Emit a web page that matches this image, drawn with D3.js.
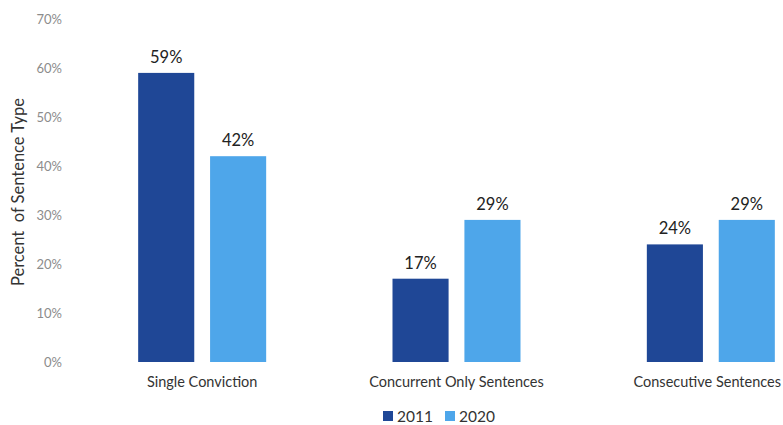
<!DOCTYPE html>
<html>
<head>
<meta charset="utf-8">
<script src="https://cdn.jsdelivr.net/npm/d3@7"></script>
<style>
  html, body { margin: 0; padding: 0; background: #ffffff; }
  svg { display: block; font-family: Lato, "Open Sans", sans-serif; }
</style>
</head>
<body>
<svg id="chart" width="783" height="425"></svg>
<script>
// Sentence type shares by year
const categories = ["Single Conviction", "Concurrent Only Sentences", "Consecutive Sentences"];
const years = ["2011", "2020"];
const values2011 = [59, 17, 24];
const values2020 = [42, 29, 29];
const yTicks = [0, 10, 20, 30, 40, 50, 60, 70];
const colors = ["#1f4796", "#4ea6ea"];

const W = 783;
const svg = d3.select("#chart");
const baseY = 362, topY = 19;

const y = d3.scaleLinear().domain([0, 70]).range([baseY, topY]);
const x = d3.scaleBand().domain(categories).range([75, 838]).paddingInner(0).paddingOuter(0);
const xs = d3.scaleBand().domain(years).range([0, 128]).paddingInner(0.22).paddingOuter(0);

// y axis (tick labels only)
const yAxis = d3.axisLeft(y).tickValues(yTicks).tickFormat(d => d + "%").tickSize(0).tickPadding(0);
const gy = svg.append("g").attr("transform", "translate(62,0)").call(yAxis);
gy.select(".domain").remove();
gy.selectAll("text").attr("fill", "#8c8c8c").style("font-size", "13px").style("font-family", "Lato, sans-serif");

// y axis title
svg.append("text")
  .attr("transform", "translate(24,192) rotate(-90)")
  .attr("text-anchor", "middle")
  .attr("fill", "#333")
  .style("font-size", "16.5px")
  .style("white-space", "pre")
  .text("Percent  of Sentence Type");

// bars
const rows = categories.map((c, i) => ({ c, vals: [values2011[i], values2020[i]] }));
const groups = svg.selectAll("g.grp").data(rows).join("g")
  .attr("class", "grp")
  .attr("transform", d => `translate(${x(d.c) + x.bandwidth() / 2 - 64},0)`);

groups.selectAll("rect").data(d => d.vals.map((v, j) => ({ v, yr: years[j], j }))).join("rect")
  .attr("x", d => xs(d.yr))
  .attr("y", d => y(d.v))
  .attr("width", xs.bandwidth())
  .attr("height", d => baseY - y(d.v))
  .attr("fill", d => colors[d.j]);

groups.selectAll("text.val").data(d => d.vals.map((v, j) => ({ v, yr: years[j] }))).join("text")
  .attr("class", "val")
  .attr("x", d => xs(d.yr) + xs.bandwidth() / 2)
  .attr("y", d => y(d.v) - 10)
  .attr("text-anchor", "middle")
  .attr("fill", "#222")
  .style("font-size", "16.5px")
  .text(d => d.v + "%");

// category labels
const xAxis = d3.axisBottom(x).tickSize(0).tickPadding(0);
const gx = svg.append("g").attr("transform", `translate(0,${baseY + 15})`).call(xAxis);
gx.select(".domain").remove();
gx.selectAll("text").attr("fill", "#333").style("font-size", "14.5px").style("font-family", "Lato, sans-serif");

// keep labels that run past the right edge inside the frame
gx.selectAll(".tick").each(function () {
  const t = d3.select(this).select("text");
  const box = this.getBoundingClientRect();
  const over = box.right - (W - 2);
  if (over > 0) t.attr("dx", -over);
});

// legend
const legend = svg.append("g").attr("transform", "translate(383,416)");
const items = legend.selectAll("g").data(years).join("g")
  .attr("transform", (d, i) => `translate(${i * 62},0)`);
items.append("rect").attr("x", 0).attr("y", -5).attr("width", 10).attr("height", 10)
  .attr("fill", (d, i) => colors[i]);
items.append("text").attr("x", 14).attr("y", 5.5)
  .attr("fill", "#333").style("font-size", "15.5px").text(d => d);
</script>
</body>
</html>
